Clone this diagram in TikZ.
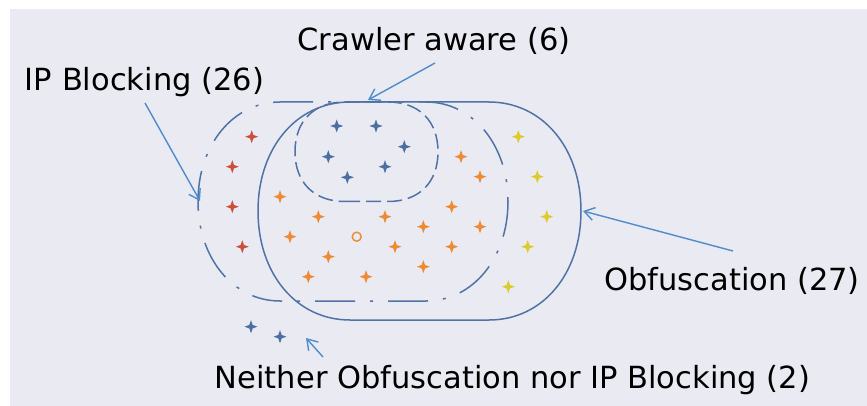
\documentclass[tikz,border=0pt]{standalone}
\usepackage{fontspec}
\setmainfont{DejaVu Sans}
\usetikzlibrary{arrows.meta}

\definecolor{panel}{HTML}{EAEAF2}
\definecolor{setline}{HTML}{5073A5}
\definecolor{pointer}{HTML}{4F8CCB}
\definecolor{ptblue}{HTML}{4A6FA0}
\definecolor{ptred}{HTML}{CC4F3C}
\definecolor{ptorange}{HTML}{EE8A33}
\definecolor{ptyellow}{HTML}{DCCB2A}

\tikzset{
  lbl/.style={inner sep=0pt, anchor=base, text=black, font=\fontsize{30.5}{36}\selectfont},
  setsolid/.style={draw=setline, line width=1.5pt},
  setdashdot/.style={draw=setline, line width=1.5pt, dash pattern=on 40pt off 15pt on 3pt off 15pt, dash phase=38pt},
  setdashed/.style={draw=setline, line width=1.5pt, dash pattern=on 15pt off 6pt},
  callout/.style={draw=pointer, line width=1.4pt, -{Straight Barb[length=10pt,width=13pt,line width=1.4pt]}},
  cross/.pic={\fill (0,-6.5)--(1.7,-1.7)--(6.5,0)--(1.7,1.7)--(0,6.5)--(-1.7,1.7)--(-6.5,0)--(-1.7,-1.7)--cycle;}
}

% softened box: #1 style, #2 left, #3 top, #4 right, #5 bottom,
% #6 horizontal reach of each rounded end, #7 handle factor
\newcommand{\softbox}[7]{%
  \pgfmathsetmacro\sbM{(#3+#5)/2}%
  \pgfmathsetmacro\sbh{(#5-#3)/2*#7}%
  \pgfmathsetmacro\sbw{#6*#7}%
  \pgfmathsetmacro\sbLi{#2+#6}%
  \pgfmathsetmacro\sbRi{#4-#6}%
  \draw[#1] (\sbLi,#5) -- (\sbRi,#5)
    .. controls (\sbRi+\sbw,#5) and (#4,\sbM+\sbh) .. (#4,\sbM)
    .. controls (#4,\sbM-\sbh) and (\sbRi+\sbw,#3) .. (\sbRi,#3)
    -- (\sbLi,#3)
    .. controls (\sbLi-\sbw,#3) and (#2,\sbM-\sbh) .. (#2,\sbM)
    .. controls (#2,\sbM+\sbh) and (\sbLi-\sbw,#5) .. (\sbLi,#5) -- cycle;
}

\begin{document}
\begin{tikzpicture}[x=1pt,y=-1pt]
  % canvas and plotting panel
  \useasboundingbox (0,0) rectangle (867,406);
  \fill[white] (0,0) rectangle (867,406);
  \fill[panel] (10,9) rectangle (867,406);

  % set outlines
  \softbox{setdashdot}{198}{102}{508}{301}{82}{0.57}
  \softbox{setsolid}{258}{102}{581}{320}{92}{0.58}
  \softbox{setdashed}{295}{102}{438}{201.5}{50}{0.62}

  % crawler-aware sites
  \foreach \p in {(336.7,126),(376,126),(404.3,146.7),(328.3,156.7),(385,166.7),(347.3,177.3)}
    \pic[color=ptblue] at \p {cross};
  % sites with neither technique
  \foreach \p in {(251,326.7),(280,336.7)}
    \pic[color=ptblue] at \p {cross};
  % IP blocking only
  \foreach \p in {(251.7,136.7),(232.3,166.7),(232.3,206.7),(242.3,246.7)}
    \pic[color=ptred] at \p {cross};
  % IP blocking and obfuscation
  \foreach \p in {(280,196.7),(318.3,216.7),(385,216.7),(290,236.7),(328.3,256.7),
                  (308.3,276.7),(366,276.7),(395,246.7),(423.3,226.7),(423.3,266.7),
                  (451.7,206.7),(451.7,246.7),(461,156.7),(480,176.7),(480,226.7)}
    \pic[color=ptorange] at \p {cross};
  \draw[ptorange, line width=1.4pt] (356.7,236.7) circle[radius=4.5pt];
  % obfuscation only
  \foreach \p in {(518.3,136.7),(537.3,176.7),(546.7,216.7),(527.7,246.7),(508.3,286.7)}
    \pic[color=ptyellow] at \p {cross};

  % labels
  \node[lbl] (crawl) at (434,51) {Crawler aware (6)};
  \node[lbl] (ipblk) at (144.5,91) {IP Blocking (26)};
  \node[lbl] (obfus) at (732,290) {Obfuscation (27)};
  \node[lbl] (neither) at (512.5,388) {Neither Obfuscation nor IP Blocking (2)};

  % callout ends
  \coordinate (crawlTail) at (435,63);
  \coordinate (crawlTip) at (368,100);
  \coordinate (ipblkTail) at (145,103);
  \coordinate (ipblkTip) at (200,201);
  \coordinate (obfusTail) at (733,251);
  \coordinate (obfusTip) at (583,211);
  \coordinate (neitherTail) at (323,357);
  \coordinate (neitherTip) at (306,338);

  \draw[callout] (crawlTail) -- (crawlTip);
  \draw[callout] (ipblkTail) -- (ipblkTip);
  \draw[callout] (obfusTail) -- (obfusTip);
  \draw[callout] (neitherTail) -- (neitherTip);
\end{tikzpicture}
\end{document}
